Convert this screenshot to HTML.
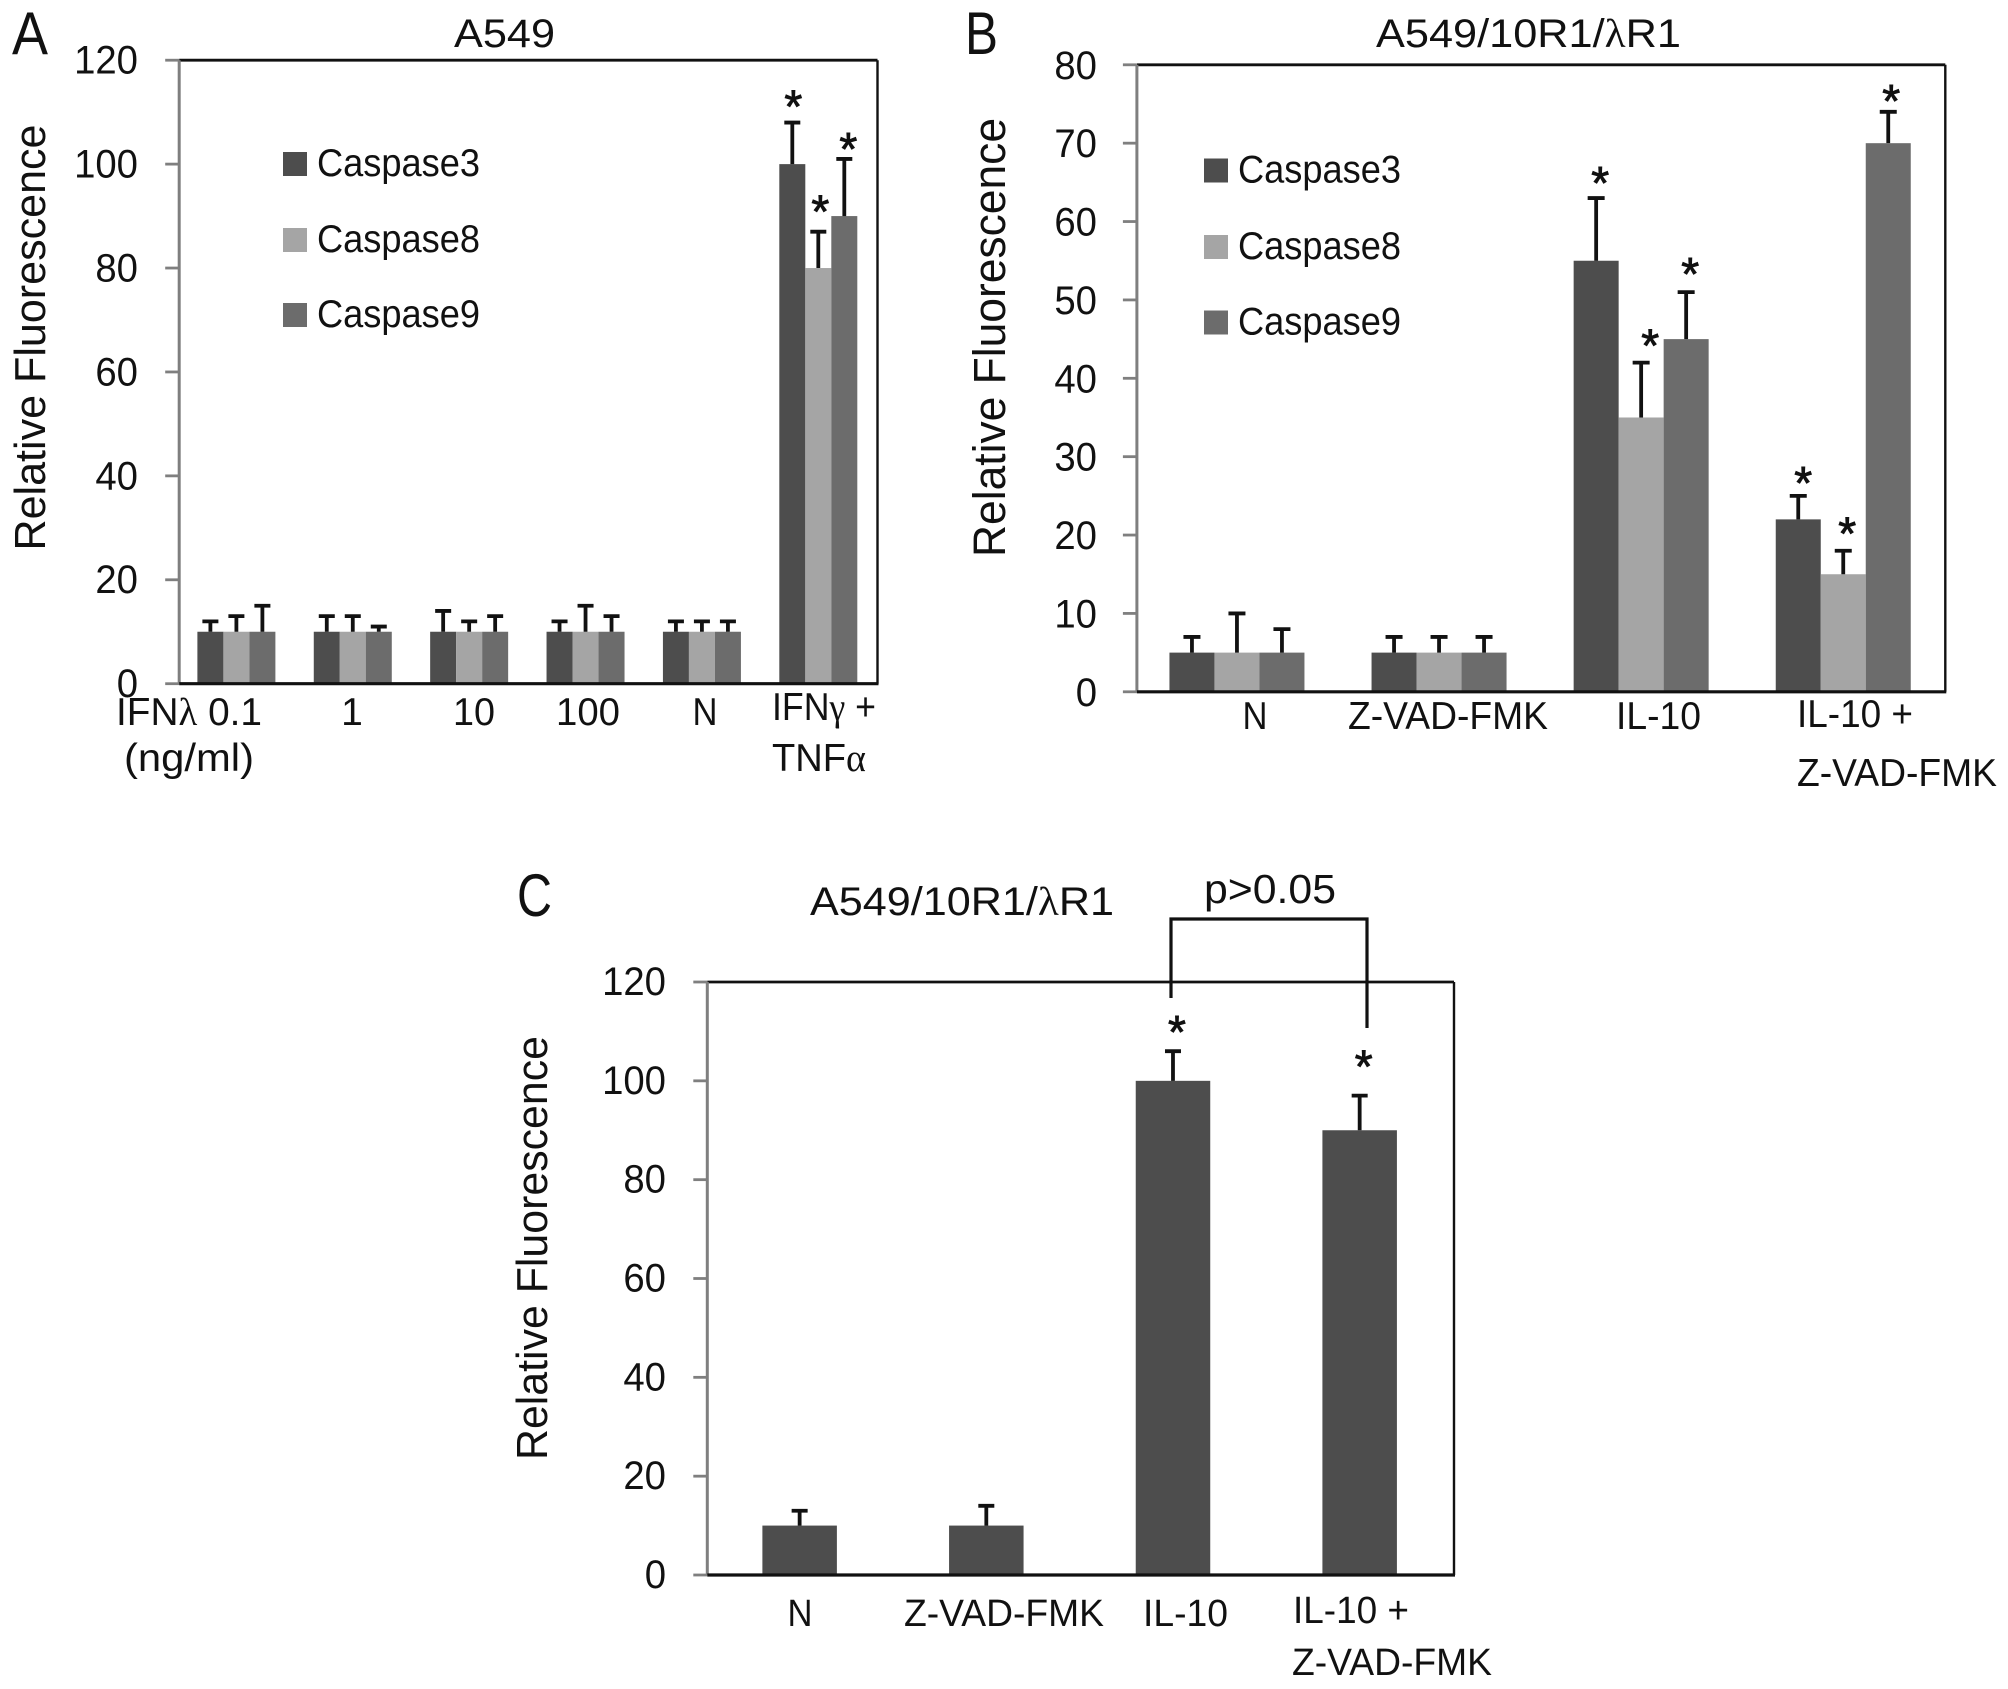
<!DOCTYPE html>
<html lang="en">
<head>
<meta charset="utf-8">
<title>Caspase relative fluorescence panels</title>
<style>
html,body{margin:0;padding:0;background:#fff;}
svg{display:block;}
text{font-family:"Liberation Sans",sans-serif;fill:#111;}
.g{font-family:"Liberation Serif",serif;}
</style>
</head>
<body>
<svg id="fig" xmlns="http://www.w3.org/2000/svg" width="2008" height="1689" viewBox="0 0 2008 1689">
  <rect x="0" y="0" width="2008" height="1689" fill="#fff"/>

  <g id="panel-a">
    <text x="12" y="54" font-size="60" textLength="36" lengthAdjust="spacingAndGlyphs">A</text>
    <text x="454" y="47" font-size="40" textLength="101" lengthAdjust="spacingAndGlyphs">A549</text>
    <text transform="translate(45,550.5) rotate(-90)" font-size="44" textLength="426" lengthAdjust="spacingAndGlyphs">Relative Fluorescence</text>
    <text x="116" y="725" font-size="39" textLength="146" lengthAdjust="spacingAndGlyphs">IFN<tspan class="g">λ</tspan> 0.1</text>
    <text x="124" y="771" font-size="39" textLength="130" lengthAdjust="spacingAndGlyphs">(ng/ml)</text>
    <text x="352" y="725" font-size="39" text-anchor="middle">1</text>
    <text x="474" y="725" font-size="39" text-anchor="middle" textLength="42" lengthAdjust="spacingAndGlyphs">10</text>
    <text x="588" y="725" font-size="39" text-anchor="middle" textLength="64" lengthAdjust="spacingAndGlyphs">100</text>
    <text x="705" y="725" font-size="39" text-anchor="middle" textLength="25" lengthAdjust="spacingAndGlyphs">N</text>
    <text x="772" y="720" font-size="39" textLength="104" lengthAdjust="spacingAndGlyphs">IFN<tspan class="g">γ</tspan> +</text>
    <text x="772" y="771" font-size="39" textLength="94" lengthAdjust="spacingAndGlyphs">TNF<tspan class="g">α</tspan></text>
  </g>

  <g id="panel-b">
    <text x="965" y="54" font-size="60" textLength="33" lengthAdjust="spacingAndGlyphs">B</text>
    <text x="1376" y="47" font-size="40" textLength="305" lengthAdjust="spacingAndGlyphs">A549/10R1/<tspan class="g">λ</tspan>R1</text>
    <text transform="translate(1005,557) rotate(-90)" font-size="45" textLength="439" lengthAdjust="spacingAndGlyphs">Relative Fluorescence</text>
    <text x="1255" y="729" font-size="39" text-anchor="middle" textLength="25" lengthAdjust="spacingAndGlyphs">N</text>
    <text x="1348" y="729" font-size="39" textLength="200" lengthAdjust="spacingAndGlyphs">Z-VAD-FMK</text>
    <text x="1616" y="729" font-size="39" textLength="85" lengthAdjust="spacingAndGlyphs">IL-10</text>
    <text x="1797" y="727" font-size="39" textLength="116" lengthAdjust="spacingAndGlyphs">IL-10 +</text>
    <text x="1797" y="786" font-size="39" textLength="200" lengthAdjust="spacingAndGlyphs">Z-VAD-FMK</text>
  </g>

  <g id="panel-c">
    <text x="517" y="916" font-size="60" textLength="35" lengthAdjust="spacingAndGlyphs">C</text>
    <text x="810" y="915" font-size="40" textLength="304" lengthAdjust="spacingAndGlyphs">A549/10R1/<tspan class="g">λ</tspan>R1</text>
    <text x="1204" y="903" font-size="41" textLength="132" lengthAdjust="spacingAndGlyphs">p&gt;0.05</text>
    <path d="M1171 998 V919 H1367 V1028" fill="none" stroke="#111" stroke-width="3.2"/>
    <text transform="translate(547,1460) rotate(-90)" font-size="44" textLength="424" lengthAdjust="spacingAndGlyphs">Relative Fluorescence</text>
    <text x="800" y="1626" font-size="38" text-anchor="middle" textLength="25" lengthAdjust="spacingAndGlyphs">N</text>
    <text x="904" y="1626" font-size="38" textLength="200" lengthAdjust="spacingAndGlyphs">Z-VAD-FMK</text>
    <text x="1143" y="1626" font-size="38" textLength="85" lengthAdjust="spacingAndGlyphs">IL-10</text>
    <text x="1293" y="1623" font-size="38" textLength="116" lengthAdjust="spacingAndGlyphs">IL-10 +</text>
    <text x="1292" y="1675" font-size="38" textLength="200" lengthAdjust="spacingAndGlyphs">Z-VAD-FMK</text>
  </g>
</svg>

<script>
// Panel A data
const aTicks = [0, 20, 40, 60, 80, 100, 120];
const aCategories = ['IFNl 0.1', '1', '10', '100', 'N', 'IFNg + TNFa'];
const aCaspase3 = [10, 10, 10, 10, 10, 100];
const aCaspase8 = [10, 10, 10, 10, 10, 80];
const aCaspase9 = [10, 10, 10, 10, 10, 90];
const aCaspase3Top = [12, 13, 14, 12, 12, 108];
const aCaspase8Top = [13, 13, 12, 15, 12, 87];
const aCaspase9Top = [15, 11, 13, 13, 12, 101];
const aStars = [[5, 0], [5, 1], [5, 2]];

// Panel B data
const bTicks = [0, 10, 20, 30, 40, 50, 60, 70, 80];
const bCategories = ['N', 'Z-VAD-FMK', 'IL-10', 'IL-10 + Z-VAD-FMK'];
const bCaspase3 = [5, 5, 55, 22];
const bCaspase8 = [5, 5, 35, 15];
const bCaspase9 = [5, 5, 45, 70];
const bCaspase3Top = [7, 7, 63, 25];
const bCaspase8Top = [10, 7, 42, 18];
const bCaspase9Top = [8, 7, 51, 74];
const bStars = [[2, 0], [2, 1], [2, 2], [3, 0], [3, 1], [3, 2]];

// Panel C data
const cTicks = [0, 20, 40, 60, 80, 100, 120];
const cCategories = ['N', 'Z-VAD-FMK', 'IL-10', 'IL-10 + Z-VAD-FMK'];
const cCaspase = [10, 10, 100, 90];
const cCaspaseTop = [13, 14, 106, 97];
const cStars = [[2, 0], [3, 0]];

const legendNames = ['Caspase3', 'Caspase8', 'Caspase9'];
const seriesColors = ['#4d4d4d', '#a5a5a5', '#6c6c6c'];
const NS = 'http://www.w3.org/2000/svg';

function make(parent, tag, attrs) {
  const el = document.createElementNS(NS, tag);
  for (const k in attrs) el.setAttribute(k, attrs[k]);
  parent.appendChild(el);
  return el;
}

function drawChart(cfg) {
  const root = document.getElementById(cfg.id);
  const p = cfg.prefix;
  const yScale = v => cfg.bottom - (v / cfg.max) * (cfg.bottom - cfg.top);
  const catW = (cfg.right - cfg.left) / cfg.categories.length;
  const xScale = (c, s) => cfg.left + catW * (c + 0.5) + (s - (cfg.series.length - 1) / 2) * cfg.barW - 1;

  // frame: top and right black, left grey
  const topLine = make(root, 'line', {x1: cfg.left, x2: cfg.right, y1: cfg.top, y2: cfg.top, stroke: '#111', 'stroke-width': 2.8});
  
  
  const rightLine = make(root, 'line', {x1: cfg.right, x2: cfg.right, y1: cfg.top, y2: cfg.bottom, stroke: '#111', 'stroke-width': 2.4});
  
  
  const leftLine = make(root, 'line', {x1: cfg.left, x2: cfg.left, y1: cfg.top, y2: cfg.bottom, stroke: '#7f7f7f', 'stroke-width': 3});
  
  

  cfg.ticks.forEach(t => {
    const y = yScale(t);
    const tick = make(root, 'line', {x1: cfg.left - 14, x2: cfg.left, y1: y, y2: y, stroke: '#7f7f7f', 'stroke-width': 2.8});
    
    
    const label = make(root, 'text', {x: cfg.tickRight, y: y + cfg.tickDy, 'font-size': cfg.tickSize, 'text-anchor': 'end', textLength: String(t).length * 21.3, lengthAdjust: 'spacingAndGlyphs'});
    label.textContent = String(t);
    
    
  });

  // bars and error bars
  cfg.series.forEach((vals, s) => {
    vals.forEach((v, c) => {
      const cx = xScale(c, s);
      const bar = make(root, 'rect', {x: cx - cfg.barW / 2, y: yScale(v), width: cfg.barW, height: cfg.bottom - yScale(v), fill: seriesColors[s]});
      
      
      const topY = yScale(cfg.tops[s][c]);
      const err = make(root, 'path', {d: 'M' + cx + ' ' + yScale(v) + ' V' + topY + ' M' + (cx - cfg.capW / 2) + ' ' + topY + ' H' + (cx + cfg.capW / 2), fill: 'none', stroke: '#111', 'stroke-width': 3.8});
      
      
    });
  });

  const baseLine = make(root, 'line', {x1: cfg.left, x2: cfg.right + 1, y1: cfg.bottom, y2: cfg.bottom, stroke: '#111', 'stroke-width': 3.2});
  
  

  // significance asterisks
  cfg.stars.forEach((st, i) => {
    const cx = xScale(st[0], st[1]) + cfg.starDx[i];
    const cy = yScale(cfg.tops[st[1]][st[0]]) - cfg.starGaps[i];
    const star = make(root, 'text', {x: cx, y: cy + 22, 'font-size': 46, 'text-anchor': 'middle', stroke: '#111', 'stroke-width': 0.9});
    star.textContent = '*';
    
    
  });

  // legend
  (cfg.legendY || []).forEach((ly, i) => {
    const swatch = make(root, 'rect', {x: cfg.legendX, y: ly, width: 24, height: 24, fill: seriesColors[i]});
    
    
    const txt = make(root, 'text', {x: cfg.legendX + 34, y: ly + 24, 'font-size': 39, textLength: 163, lengthAdjust: 'spacingAndGlyphs'});
    txt.textContent = legendNames[i];
    
    
  });
}

drawChart({
  id: 'panel-a', prefix: 'panel-a', categories: aCategories, ticks: aTicks, max: 120,
  series: [aCaspase3, aCaspase8, aCaspase9], tops: [aCaspase3Top, aCaspase8Top, aCaspase9Top],
  names: ['caspase3', 'caspase8', 'caspase9'], stars: aStars, starGaps: [22, 26, 16], starDx: [1, 2, 4],
  left: 179.2, right: 877.5, top: 60.2, bottom: 683.7, barW: 26, capW: 16,
  tickRight: 138, tickDy: 13.4, tickSize: 40, legendX: 283, legendY: [152, 228, 303]
});
drawChart({
  id: 'panel-b', prefix: 'panel-b', categories: bCategories, ticks: bTicks, max: 80,
  series: [bCaspase3, bCaspase8, bCaspase9], tops: [bCaspase3Top, bCaspase8Top, bCaspase9Top],
  names: ['caspase3', 'caspase8', 'caspase9'], stars: bStars, starGaps: [21, 23, 24, 19, 23, 17], starDx: [4, 9, 4, 5, 4, 3],
  left: 1136.9, right: 1945.3, top: 64.8, bottom: 691.8, barW: 45, capW: 17,
  tickRight: 1097, tickDy: 14, tickSize: 40, legendX: 1204, legendY: [158.5, 235, 310.5]
});
drawChart({
  id: 'panel-c', prefix: 'panel-c', categories: cCategories, ticks: cTicks, max: 120,
  series: [cCaspase], tops: [cCaspaseTop],
  names: ['caspase'], stars: cStars, starGaps: [25, 35], starDx: [4, 4],
  left: 707.3, right: 1454, top: 982, bottom: 1575, barW: 74.5, capW: 16,
  tickRight: 666, tickDy: 13, tickSize: 40
});
</script>
</body>
</html>
